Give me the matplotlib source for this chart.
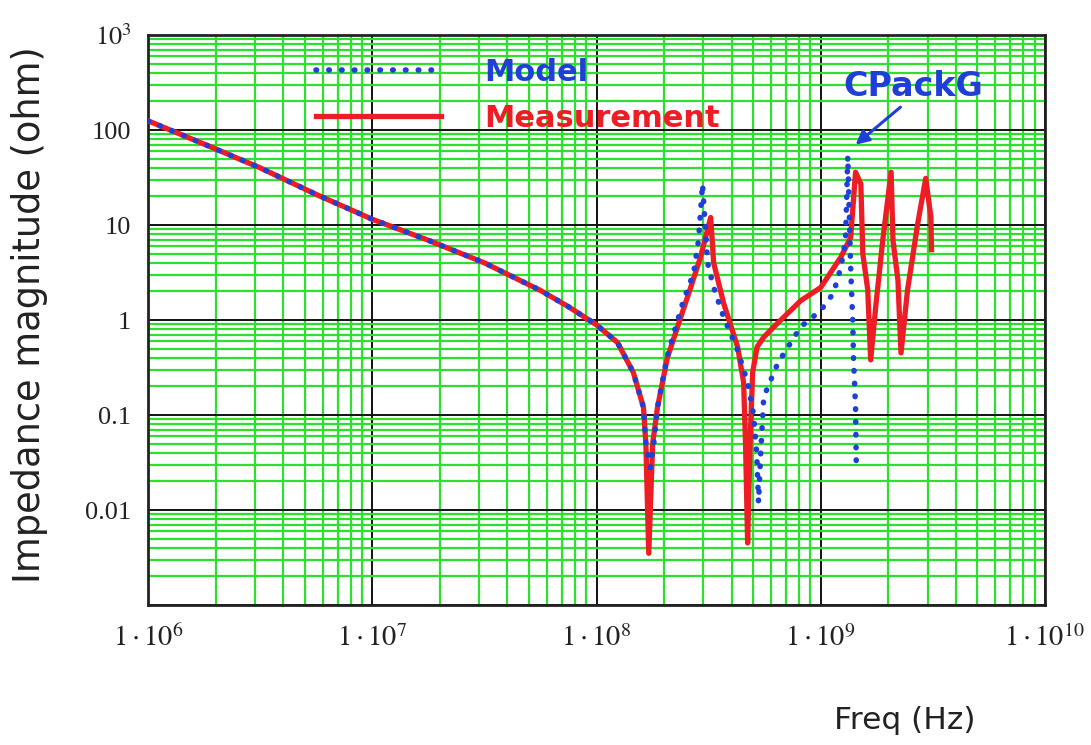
import numpy as np
import matplotlib
matplotlib.use("Agg")
import matplotlib.pyplot as plt
from matplotlib.ticker import LogLocator, NullFormatter, FixedLocator, FixedFormatter

plt.rcParams['mathtext.fontset'] = 'stix'

meas_f = [1.0e6, 1.78e6, 3.16e6, 5.62e6, 1.0e7, 1.78e7, 3.16e7, 5.62e7, 7.5e7, 1.0e8,
          1.24e8, 1.46e8, 1.62e8, 1.66e8, 1.71e8, 1.78e8, 1.87e8, 2.07e8, 2.30e8,
          2.63e8, 2.91e8, 3.23e8, 3.33e8, 3.69e8, 4.26e8, 4.53e8, 4.62e8, 4.72e8,
          4.85e8, 4.97e8, 5.2e8, 5.57e8, 6.43e8, 6.84e8, 8.15e8, 1.0e9, 1.23e9,
          1.36e9, 1.43e9, 1.51e9, 1.54e9, 1.62e9, 1.67e9, 1.76e9, 1.89e9, 2.06e9,
          2.10e9, 2.21e9, 2.28e9, 2.44e9, 2.71e9, 2.94e9, 3.10e9, 3.12e9]
meas_z = [125, 71, 40, 21, 11.5, 6.9, 4.0, 2.05, 1.38, 0.89,
          0.58, 0.28, 0.12, 0.05, 0.0035, 0.05, 0.12, 0.4, 0.85,
          2.2, 4.6, 12, 4.0, 1.5, 0.52, 0.22, 0.05, 0.0045,
          0.06, 0.28, 0.52, 0.66, 0.93, 1.07, 1.6, 2.2, 4.6,
          7.4, 36, 27, 5.0, 2.1, 0.38, 1.4, 6.9, 36,
          6.9, 2.6, 0.45, 2.1, 10.5, 31, 12, 5.5]

# model (blue)
model_f = [1.0e6, 1.78e6, 3.16e6, 5.62e6, 1.0e7, 1.78e7, 3.16e7, 5.62e7, 7.5e7, 1.0e8,
           1.24e8, 1.46e8, 1.62e8, 1.66e8, 1.74e8, 1.80e8, 1.87e8, 2.07e8, 2.44e8,
           2.71e8, 2.85e8, 2.97e8, 3.13e8, 3.33e8, 3.69e8, 4.26e8, 4.72e8, 5.02e8,
           5.18e8, 5.28e8, 5.40e8, 5.57e8, 6.43e8, 8.15e8, 1.0e9, 1.14e9, 1.23e9,
           1.29e9, 1.32e9, 1.36e9, 1.39e9, 1.40e9, 1.43e9, 1.44e9]
model_z = [125, 71, 40, 21, 11.5, 6.9, 4.0, 2.05, 1.38, 0.89,
           0.58, 0.28, 0.12, 0.05, 0.028, 0.05, 0.12, 0.42, 1.6,
           3.1, 6.9, 27, 4.0, 2.2, 1.07, 0.48, 0.22, 0.1,
           0.04, 0.012, 0.04, 0.155, 0.35, 0.85, 1.26, 1.92, 3.6,
           6.9, 53, 3.6, 0.93, 0.4, 0.12, 0.032]

y_ticks = [1e-3, 1e-2, 1e-1, 1, 10, 100, 1000]
y_labels = ['', '0.01', '0.1', '1', '10', '100', r'$10^{3}$']
x_ticks = [1e6, 1e7, 1e8, 1e9, 1e10]
x_labels = [r'$1\cdot10^{6}$', r'$1\cdot10^{7}$', r'$1\cdot10^{8}$',
            r'$1\cdot10^{9}$', r'$1\cdot10^{10}$']

blue = '#1f3fd8'
red = '#ee1c25'
green = '#2ee02e'

fig = plt.figure(figsize=(10.91, 7.45), dpi=100)
ax = fig.add_axes([0.1357, 0.1879, 0.8221, 0.7651])
ax.set_xscale('log')
ax.set_yscale('log')

ax.plot(meas_f, meas_z, color=red, lw=3.8, solid_joinstyle='round', label='Measurement', zorder=3)
ax.plot(model_f, model_z, color=blue, lw=4, linestyle=(0, (0.1, 2.2)),
        dash_capstyle='round', label='Model', zorder=4)

ax.set_xlim(1e6, 1e10)
ax.set_ylim(1e-3, 1e3)

for axis in (ax.xaxis, ax.yaxis):
    axis.set_minor_locator(LogLocator(base=10, subs=np.arange(2, 10), numticks=100))
    axis.set_minor_formatter(NullFormatter())
ax.xaxis.set_major_locator(FixedLocator(x_ticks))
ax.xaxis.set_major_formatter(FixedFormatter(x_labels))
ax.yaxis.set_major_locator(FixedLocator(y_ticks))
ax.yaxis.set_major_formatter(FixedFormatter(y_labels))

ax.grid(which='minor', color=green, lw=1.6)
ax.grid(which='major', color='#111111', lw=1.4)
ax.set_axisbelow(True)
ax.tick_params(which='both', length=0)
ax.tick_params(axis='x', pad=14, labelsize=20.5, labelcolor='#222222')
ax.tick_params(axis='y', pad=12, labelsize=19, labelcolor='#222222')
for lab in ax.get_yticklabels():
    lab.set_fontfamily('Liberation Serif')
for sp in ax.spines.values():
    sp.set_linewidth(2)
    sp.set_color('#222222')

ax.set_xlabel('Freq (Hz)', fontsize=22.5, color='#222222')
ax.xaxis.set_label_coords(0.844, -0.177)
ax.set_ylabel('Impedance magnitude (ohm)', fontsize=26.5, color='#222222')
ax.yaxis.set_label_coords(-0.112, 0.51)

handles, labels = ax.get_legend_handles_labels()
ax.legend(handles[::-1], labels[::-1], loc='upper left', bbox_to_anchor=(0.187, 0.96),
          frameon=False, prop={'weight': 'bold', 'size': 22}, handlelength=4.1,
          handletextpad=1.4, labelspacing=0.55, borderpad=0, borderaxespad=0,
          labelcolor='linecolor')

ax.annotate('CPackG', xy=(1.43e9, 70), xytext=(2.6e9, 290), color=blue,
            fontsize=24, fontweight='bold', ha='center', va='center',
            arrowprops=dict(arrowstyle='-|>', color=blue, lw=2.2, relpos=(0.5, 0.2),
                            mutation_scale=20, shrinkA=2, shrinkB=0))

fig.savefig('out.png', dpi=100)
